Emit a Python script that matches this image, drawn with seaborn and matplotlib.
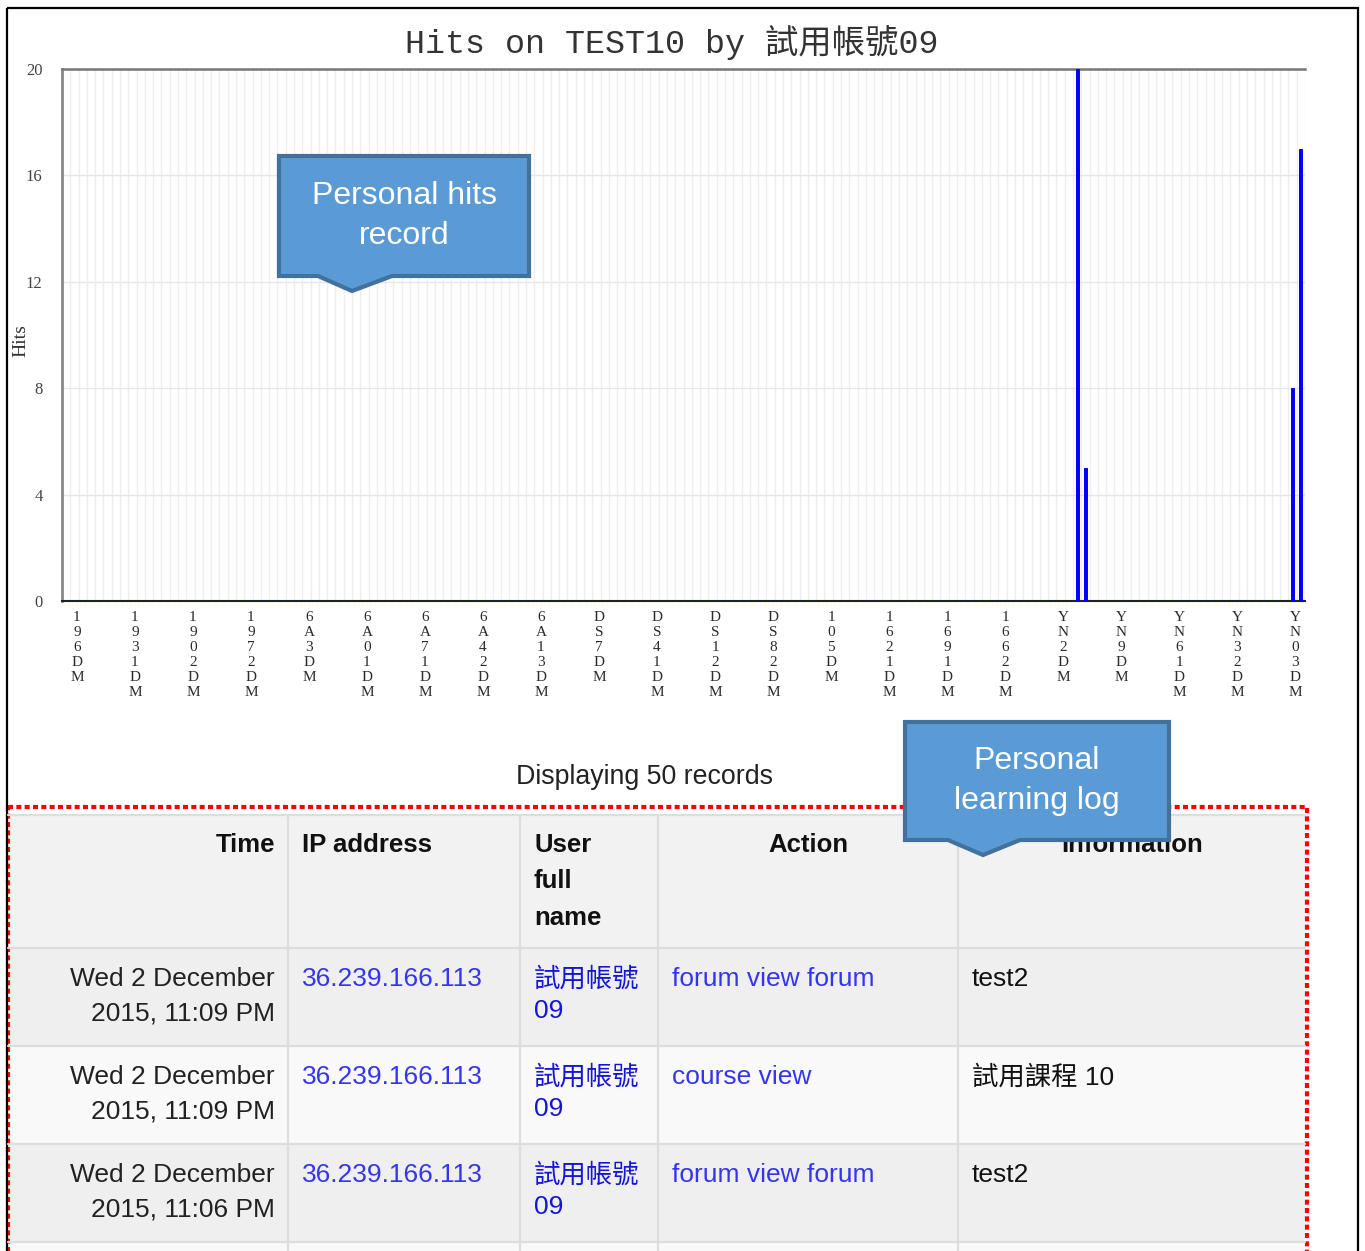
import numpy as np
import pandas as pd
import seaborn as sns
import matplotlib.pyplot as plt
from matplotlib.patches import Rectangle, Polygon

# ----------------- data ----------------- #
n_bins = 150
spike_bins = [122, 123, 148, 149]
spike_hits = [20, 5, 8, 17]
tick_words = ["196", "1931", "1902", "1972", "6A3", "6A01", "6A71", "6A42", "6A13",
              "DS7", "DS41", "DS12", "DS82", "105", "1621", "1691", "1662",
              "YN2", "YN9", "YN61", "YN32", "YN03"]
y_ticks = [0, 4, 8, 12, 16, 20]

col_names = ["Time", "IP address", "User\nfull\nname", "Action", "Information"]
log_time = ["Wed 2 December\n2015, 11:09 PM", "Wed 2 December\n2015, 11:09 PM",
            "Wed 2 December\n2015, 11:06 PM"]
log_ip = ["36.239.166.113", "36.239.166.113", "36.239.166.113"]
log_user = ["試用帳號\n09", "試用帳號\n09", "試用帳號\n09"]
log_action = ["forum view forum", "course view", "forum view forum"]
log_info = ["test2", "試用課程 10", "test2"]

hits = np.zeros(n_bins)
hits[spike_bins] = spike_hits
df = pd.DataFrame({"bin": np.arange(n_bins), "hits": hits})

W, H = 1365, 1251
sns.set_theme(style="white")
plt.rcParams['font.family'] = ['Liberation Sans', 'Noto Sans CJK TC']

fig = plt.figure(figsize=(W / 100, H / 100), dpi=100)

# background layer in pixel coords
bg = fig.add_axes([0, 0, 1, 1], zorder=0)
bg.set_xlim(0, W)
bg.set_ylim(H, 0)
bg.axis('off')

# ----------------- chart ----------------- #
x0, x1, y0, y1 = 62, 1305, 69, 601
ax = fig.add_axes([x0 / W, 1 - y1 / H, (x1 - x0) / W, (y1 - y0) / H], zorder=1)
sns.barplot(data=df, x="bin", y="hits", color="#0000ff", width=0.38,
            edgecolor="#0000ff", linewidth=0.7, saturation=1, ax=ax)
for p in ax.patches:
    p.set_zorder(3)
    p.set_clip_on(False)
ax.set_xlim(-0.5, n_bins - 0.5)
ax.set_ylim(0, 20)
ax.set_xticks(np.arange(n_bins) + 0.5, minor=True)
tick_pos = [1.3 + 7 * i for i in range(len(tick_words))]
ax.set_xticks(tick_pos, ["\n".join(list(w) + ["D", "M"]) for w in tick_words])
ax.set_yticks(y_ticks, [str(v) for v in y_ticks])
ax.grid(True, which="minor", axis="x", color="#eeeeee", lw=1)
ax.grid(True, which="major", axis="y", color="#e6e6e6", lw=1)
ax.set_axisbelow(True)
ax.tick_params(axis="x", which="both", length=0, pad=7)
ax.tick_params(axis="y", length=0, pad=14)
for lab in ax.get_xticklabels():
    lab.set_family("Liberation Serif")
    lab.set_fontsize(11)
    lab.set_color("#2a2a2a")
    lab.set_linespacing(1.2)
for lab in ax.get_yticklabels():
    lab.set_family("Liberation Serif")
    lab.set_fontsize(12)
    lab.set_color("#444444")
ax.set_xlabel("")
ax.set_ylabel("Hits", family="Liberation Serif", fontsize=14, color="#333333")
ax.yaxis.set_label_coords(-0.026, 0.49)
ax.spines["right"].set_visible(False)
ax.spines["top"].set_color("#777777")
ax.spines["top"].set_linewidth(1.8)
ax.spines["left"].set_color("#888888")
ax.spines["left"].set_linewidth(2)
ax.spines["bottom"].set_color("#222222")
ax.spines["bottom"].set_linewidth(1.5)

bg.text(672, 42, "Hits on TEST10 by 試用帳號09", ha="center", va="center",
        family=["Liberation Mono", "Noto Sans CJK TC"], fontsize=24, color="#333333")
bg.text(645, 777, "Displaying 50 records", ha="center", va="center",
        fontsize=19.3, color="#222222")

# ----------------- table ----------------- #
cx = [8, 288, 520, 658, 958, 1305]
ry = [815, 948, 1046, 1144, 1242, 1262]
row_bg = ["#f2f2f2", "#efefef", "#f9f9f9", "#efefef", "#f9f9f9"]
for i in range(len(ry) - 1):
    bg.add_patch(Rectangle((cx[0], ry[i]), cx[-1] - cx[0], ry[i + 1] - ry[i],
                           facecolor=row_bg[i], edgecolor="none"))
for yy in ry[:-1]:
    bg.plot([cx[0], cx[-1]], [yy, yy], color="#dddddd", lw=1.6)
for xx in cx[1:-1]:
    bg.plot([xx, xx], [ry[0], ry[-1]], color="#dddddd", lw=1.6)

hdr_x = [275, 302, 534, 808, 1132]
hdr_ha = ["right", "left", "left", "center", "center"]
for name, hx, ha in zip(col_names, hdr_x, hdr_ha):
    bg.text(hx, 833, name, ha=ha, va="top", fontsize=18.5, fontweight="bold",
            color="#111111", linespacing=1.65)

link = "#3535f0"
for i in range(len(log_time)):
    top = 967 + 98 * i
    bg.text(275, top, log_time[i], ha="right", va="top", fontsize=19,
            color="#222222", linespacing=1.55, multialignment="right")
    bg.text(302, top, log_ip[i], ha="left", va="top", fontsize=19, color=link)
    bg.text(534, top, log_user[i], ha="left", va="top", fontsize=19,
            color="#1515d8", linespacing=1.4)
    bg.text(672, top, log_action[i], ha="left", va="top", fontsize=19, color=link)
    bg.text(972, top, log_info[i], ha="left", va="top", fontsize=19, color="#111111")

bg.add_patch(Rectangle((8, 807), 1299, 460, fill=False, edgecolor="red", lw=3,
                       linestyle=(0, (1.2, 0.8))))
bg.add_patch(Rectangle((7, 8), 1351, 1260, fill=False, edgecolor="black", lw=1.6))

# ----------------- callouts ----------------- #
ov = fig.add_axes([0, 0, 1, 1], zorder=2)
ov.set_xlim(0, W)
ov.set_ylim(H, 0)
ov.axis('off')


def callout(bx0, by0, bx1, by1, px0, apx, px1, apy, text):
    pts = [(bx0, by0), (bx1, by0), (bx1, by1), (px1, by1), (apx, apy), (px0, by1), (bx0, by1)]
    ov.add_patch(Polygon(pts, closed=True, facecolor="#5b9bd5", edgecolor="#41719c", lw=3))
    ov.text((bx0 + bx1) / 2, (by0 + by1) / 2, text, ha="center", va="center",
            fontsize=23, color="white", linespacing=1.45)


callout(279, 156, 529, 276, 318, 352, 392, 291, "Personal hits\nrecord")
callout(905, 722, 1169, 840, 948, 983, 1020, 855, "Personal\nlearning log")

fig.savefig("out.png", dpi=100)
